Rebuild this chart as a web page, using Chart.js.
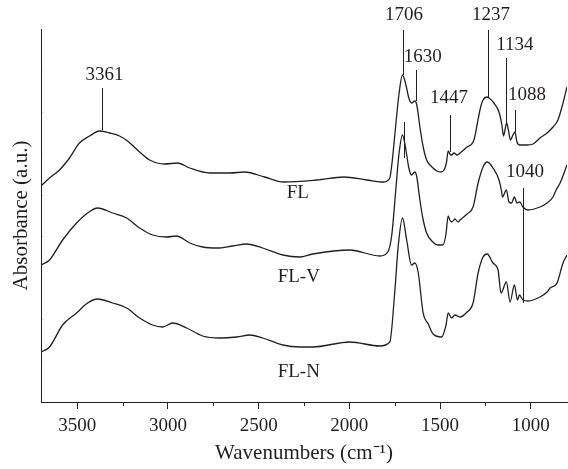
<!DOCTYPE html>
<html lang="en">
<head>
    <meta charset="UTF-8">
    <title>FTIR spectra FL, FL-V, FL-N</title>
    <script src="https://cdn.jsdelivr.net/npm/chart.js"></script>
    <style>
        body {
            margin: 0;
            background: #fff;
        }
        canvas {
            display: block;
        }
    </style>
</head>
<body>

<canvas id="ftirChart" width="568" height="469"></canvas>

<script>
    // spectra (wavenumber in cm-1, absorbance in arbitrary offset units)
    const wnFL = [3700, 3653, 3598, 3543, 3488, 3432, 3377, 3322, 3267, 3223, 3156, 3101, 3018, 2947, 2880, 2770, 2660, 2577, 2467, 2362, 2180, 2030, 1904, 1810, 1777, 1766, 1744, 1727, 1707, 1688, 1672, 1657, 1639, 1628, 1611, 1595, 1574, 1550, 1517, 1495, 1478, 1465, 1455, 1446, 1436, 1423, 1406, 1390, 1351, 1313, 1296, 1276, 1263, 1243, 1230, 1203, 1175, 1159, 1150, 1142, 1133, 1123, 1112, 1098, 1087, 1076, 1060, 1022, 987, 949, 910, 877, 850, 822, 800];
    const absFL = [2.16, 2.24, 2.32, 2.44, 2.59, 2.66, 2.71, 2.69, 2.66, 2.61, 2.50, 2.42, 2.38, 2.39, 2.34, 2.29, 2.29, 2.30, 2.25, 2.20, 2.22, 2.25, 2.22, 2.20, 2.24, 2.37, 2.77, 3.07, 3.27, 3.17, 3.04, 2.99, 3.01, 2.97, 2.75, 2.57, 2.42, 2.36, 2.31, 2.30, 2.32, 2.39, 2.51, 2.48, 2.47, 2.49, 2.47, 2.49, 2.55, 2.62, 2.77, 2.95, 3.02, 3.05, 3.04, 2.99, 2.90, 2.77, 2.66, 2.72, 2.79, 2.72, 2.62, 2.67, 2.70, 2.60, 2.57, 2.57, 2.58, 2.64, 2.69, 2.75, 2.82, 2.99, 3.15];

    const wnFLV = [3700, 3653, 3581, 3504, 3443, 3388, 3305, 3228, 3156, 3085, 3008, 2953, 2880, 2809, 2731, 2643, 2566, 2478, 2367, 2273, 2202, 1998, 1832, 1788, 1766, 1744, 1727, 1707, 1688, 1672, 1657, 1639, 1628, 1611, 1595, 1574, 1540, 1512, 1484, 1468, 1455, 1446, 1435, 1418, 1401, 1390, 1351, 1318, 1290, 1263, 1240, 1208, 1175, 1160, 1156, 1134, 1120, 1106, 1090, 1076, 1060, 1043, 1015, 949, 910, 877, 860, 838, 800];
    const absFLV = [1.37, 1.42, 1.62, 1.79, 1.89, 1.94, 1.89, 1.84, 1.74, 1.67, 1.65, 1.66, 1.59, 1.55, 1.54, 1.56, 1.58, 1.54, 1.47, 1.45, 1.48, 1.52, 1.46, 1.50, 1.67, 2.12, 2.47, 2.67, 2.52, 2.34, 2.27, 2.30, 2.25, 2.02, 1.84, 1.69, 1.60, 1.57, 1.57, 1.67, 1.86, 1.82, 1.80, 1.83, 1.80, 1.82, 1.88, 1.95, 2.19, 2.35, 2.40, 2.34, 2.22, 2.10, 2.05, 2.12, 2.00, 1.99, 2.05, 1.99, 2.00, 1.95, 1.92, 1.95, 1.99, 2.05, 2.12, 2.19, 2.37];

    const wnFLN = [3700, 3653, 3581, 3504, 3443, 3388, 3305, 3228, 3156, 3085, 3029, 2974, 2897, 2809, 2715, 2621, 2549, 2478, 2367, 2273, 2202, 1998, 1832, 1777, 1750, 1731, 1707, 1684, 1657, 1639, 1620, 1593, 1565, 1538, 1491, 1467, 1455, 1436, 1418, 1390, 1351, 1318, 1290, 1263, 1240, 1208, 1180, 1164, 1134, 1114, 1090, 1073, 1062, 1043, 1015, 949, 910, 893, 855, 822, 800];
    const absFLN = [0.50, 0.55, 0.77, 0.89, 0.99, 1.03, 0.99, 0.94, 0.84, 0.77, 0.75, 0.79, 0.74, 0.66, 0.64, 0.65, 0.67, 0.64, 0.57, 0.55, 0.55, 0.60, 0.56, 0.60, 1.09, 1.55, 1.84, 1.62, 1.37, 1.39, 1.29, 0.89, 0.78, 0.68, 0.65, 0.77, 0.89, 0.84, 0.87, 0.85, 0.90, 0.99, 1.29, 1.45, 1.48, 1.39, 1.32, 1.09, 1.20, 1.00, 1.17, 1.02, 1.07, 1.02, 1.01, 1.05, 1.10, 1.14, 1.19, 1.39, 1.47];

    const xTicks = [1000, 1500, 2000, 2500, 3000, 3500];
    const xMinorTicks = [1250, 1750, 2250, 2750, 3250];
    const yTicks = [0.41, 0.83, 1.24, 1.66, 2.07, 2.49, 2.90, 3.32];

    // peak labels: text, where the text sits, and the marker line under it
    const peakText = ['3361', '1706', '1630', '1447', '1237', '1134', '1088', '1040', ''];
    const peakTextWn = [3350, 1699, 1595, 1451, 1219, 1087, 1020, 1031, 0];
    const peakTextAbs = [3.27, 3.87, 3.45, 3.04, 3.87, 3.57, 3.07, 2.30, 0];
    const peakLineWn = [3361, 1706, 1630, 1447, 1237, 1134, 1088, 1040, 1699];
    const peakLineTop = [3.14, 3.72, 3.32, 2.87, 3.72, 3.44, 2.92, 2.14, 2.80];
    const peakLineBottom = [2.72, 3.27, 3.01, 2.50, 3.05, 2.77, 2.70, 0.99, 2.44];

    const sampleNames = ['FL', 'FL-V', 'FL-N'];
    const sampleNameWn = [2284, 2279, 2279];
    const sampleNameAbs = [2.09, 1.25, 0.30];

    function toPoints(wn, abs) {
        return wn.map((w, i) => ({ x: w, y: abs[i] }));
    }

    const textColor = '#231f20';
    const serif = '"Liberation Serif", "Times New Roman", serif';

    const annotatePlugin = {
        id: 'annotate',
        afterDraw(chart) {
            const { ctx, scales: { x, y } } = chart;
            ctx.save();

            // minor x ticks
            ctx.strokeStyle = textColor;
            ctx.lineWidth = 1;
            xMinorTicks.forEach(v => {
                const px = Math.round(x.getPixelForValue(v)) + 0.5;
                ctx.beginPath();
                ctx.moveTo(px, y.bottom);
                ctx.lineTo(px, y.bottom + 4);
                ctx.stroke();
            });

            // faint y ticks inside the axis
            ctx.strokeStyle = '#e2e2e2';
            yTicks.forEach(v => {
                const py = Math.round(y.getPixelForValue(v)) + 0.5;
                ctx.beginPath();
                ctx.moveTo(x.left + 1, py);
                ctx.lineTo(x.left + 3, py);
                ctx.stroke();
            });

            // peak marker lines
            ctx.strokeStyle = textColor;
            peakLineWn.forEach((wn, i) => {
                const px = Math.round(x.getPixelForValue(wn)) + 0.5;
                ctx.beginPath();
                ctx.moveTo(px, y.getPixelForValue(peakLineTop[i]));
                ctx.lineTo(px, y.getPixelForValue(peakLineBottom[i]));
                ctx.stroke();
            });

            ctx.fillStyle = textColor;
            ctx.font = '19px ' + serif;
            ctx.textAlign = 'center';
            ctx.textBaseline = 'middle';
            peakText.forEach((t, i) => {
                if (!t) return;
                ctx.fillText(t, x.getPixelForValue(peakTextWn[i]), y.getPixelForValue(peakTextAbs[i]));
            });
            sampleNames.forEach((t, i) => {
                ctx.fillText(t, x.getPixelForValue(sampleNameWn[i]), y.getPixelForValue(sampleNameAbs[i]));
            });
            ctx.restore();
        }
    };

    function lineSet(label, wn, abs) {
        return {
            label: label,
            data: toPoints(wn, abs),
            showLine: true,
            borderColor: textColor,
            borderWidth: 1.3,
            pointRadius: 0,
            cubicInterpolationMode: 'monotone',
            fill: false
        };
    }

    const ctx = document.getElementById('ftirChart').getContext('2d');
    const ftirChart = new Chart(ctx, {
        type: 'scatter',
        data: {
            datasets: [
                lineSet('FL', wnFL, absFL),
                lineSet('FL-V', wnFLV, absFLV),
                lineSet('FL-N', wnFLN, absFLN)
            ]
        },
        options: {
            responsive: false,
            devicePixelRatio: 1,
            animation: false,
            layout: {
                padding: { top: 29, right: 1, left: 0, bottom: 0 }
            },
            plugins: {
                legend: { display: false },
                tooltip: { enabled: false }
            },
            scales: {
                x: {
                    type: 'linear',
                    reverse: true,
                    min: 800,
                    max: 3700,
                    afterBuildTicks: scale => {
                        scale.ticks = xTicks.map(v => ({ value: v }));
                    },
                    afterFit: scale => {
                        scale.height = 67;
                    },
                    border: { color: textColor, width: 1 },
                    grid: {
                        drawOnChartArea: false,
                        color: textColor,
                        tickLength: 7
                    },
                    ticks: {
                        color: textColor,
                        padding: 6,
                        maxRotation: 0,
                        callback: v => String(v),
                        font: { family: serif, size: 19 }
                    },
                    title: {
                        display: true,
                        text: 'Wavenumbers (cm\u207B\u00B9)',
                        color: textColor,
                        padding: { top: 0, bottom: 3 },
                        font: { family: serif, size: 21 }
                    }
                },
                y: {
                    type: 'linear',
                    min: 0,
                    max: 3.73,
                    afterFit: scale => {
                        scale.width = 41;
                    },
                    border: { color: textColor, width: 1 },
                    grid: { display: false },
                    ticks: { display: false },
                    title: {
                        display: true,
                        text: 'Absorbance (a.u.)',
                        color: textColor,
                        padding: { top: 9, bottom: 0 },
                        font: { family: serif, size: 21 }
                    }
                }
            }
        },
        plugins: [annotatePlugin]
    });
</script>

</body>
</html>
